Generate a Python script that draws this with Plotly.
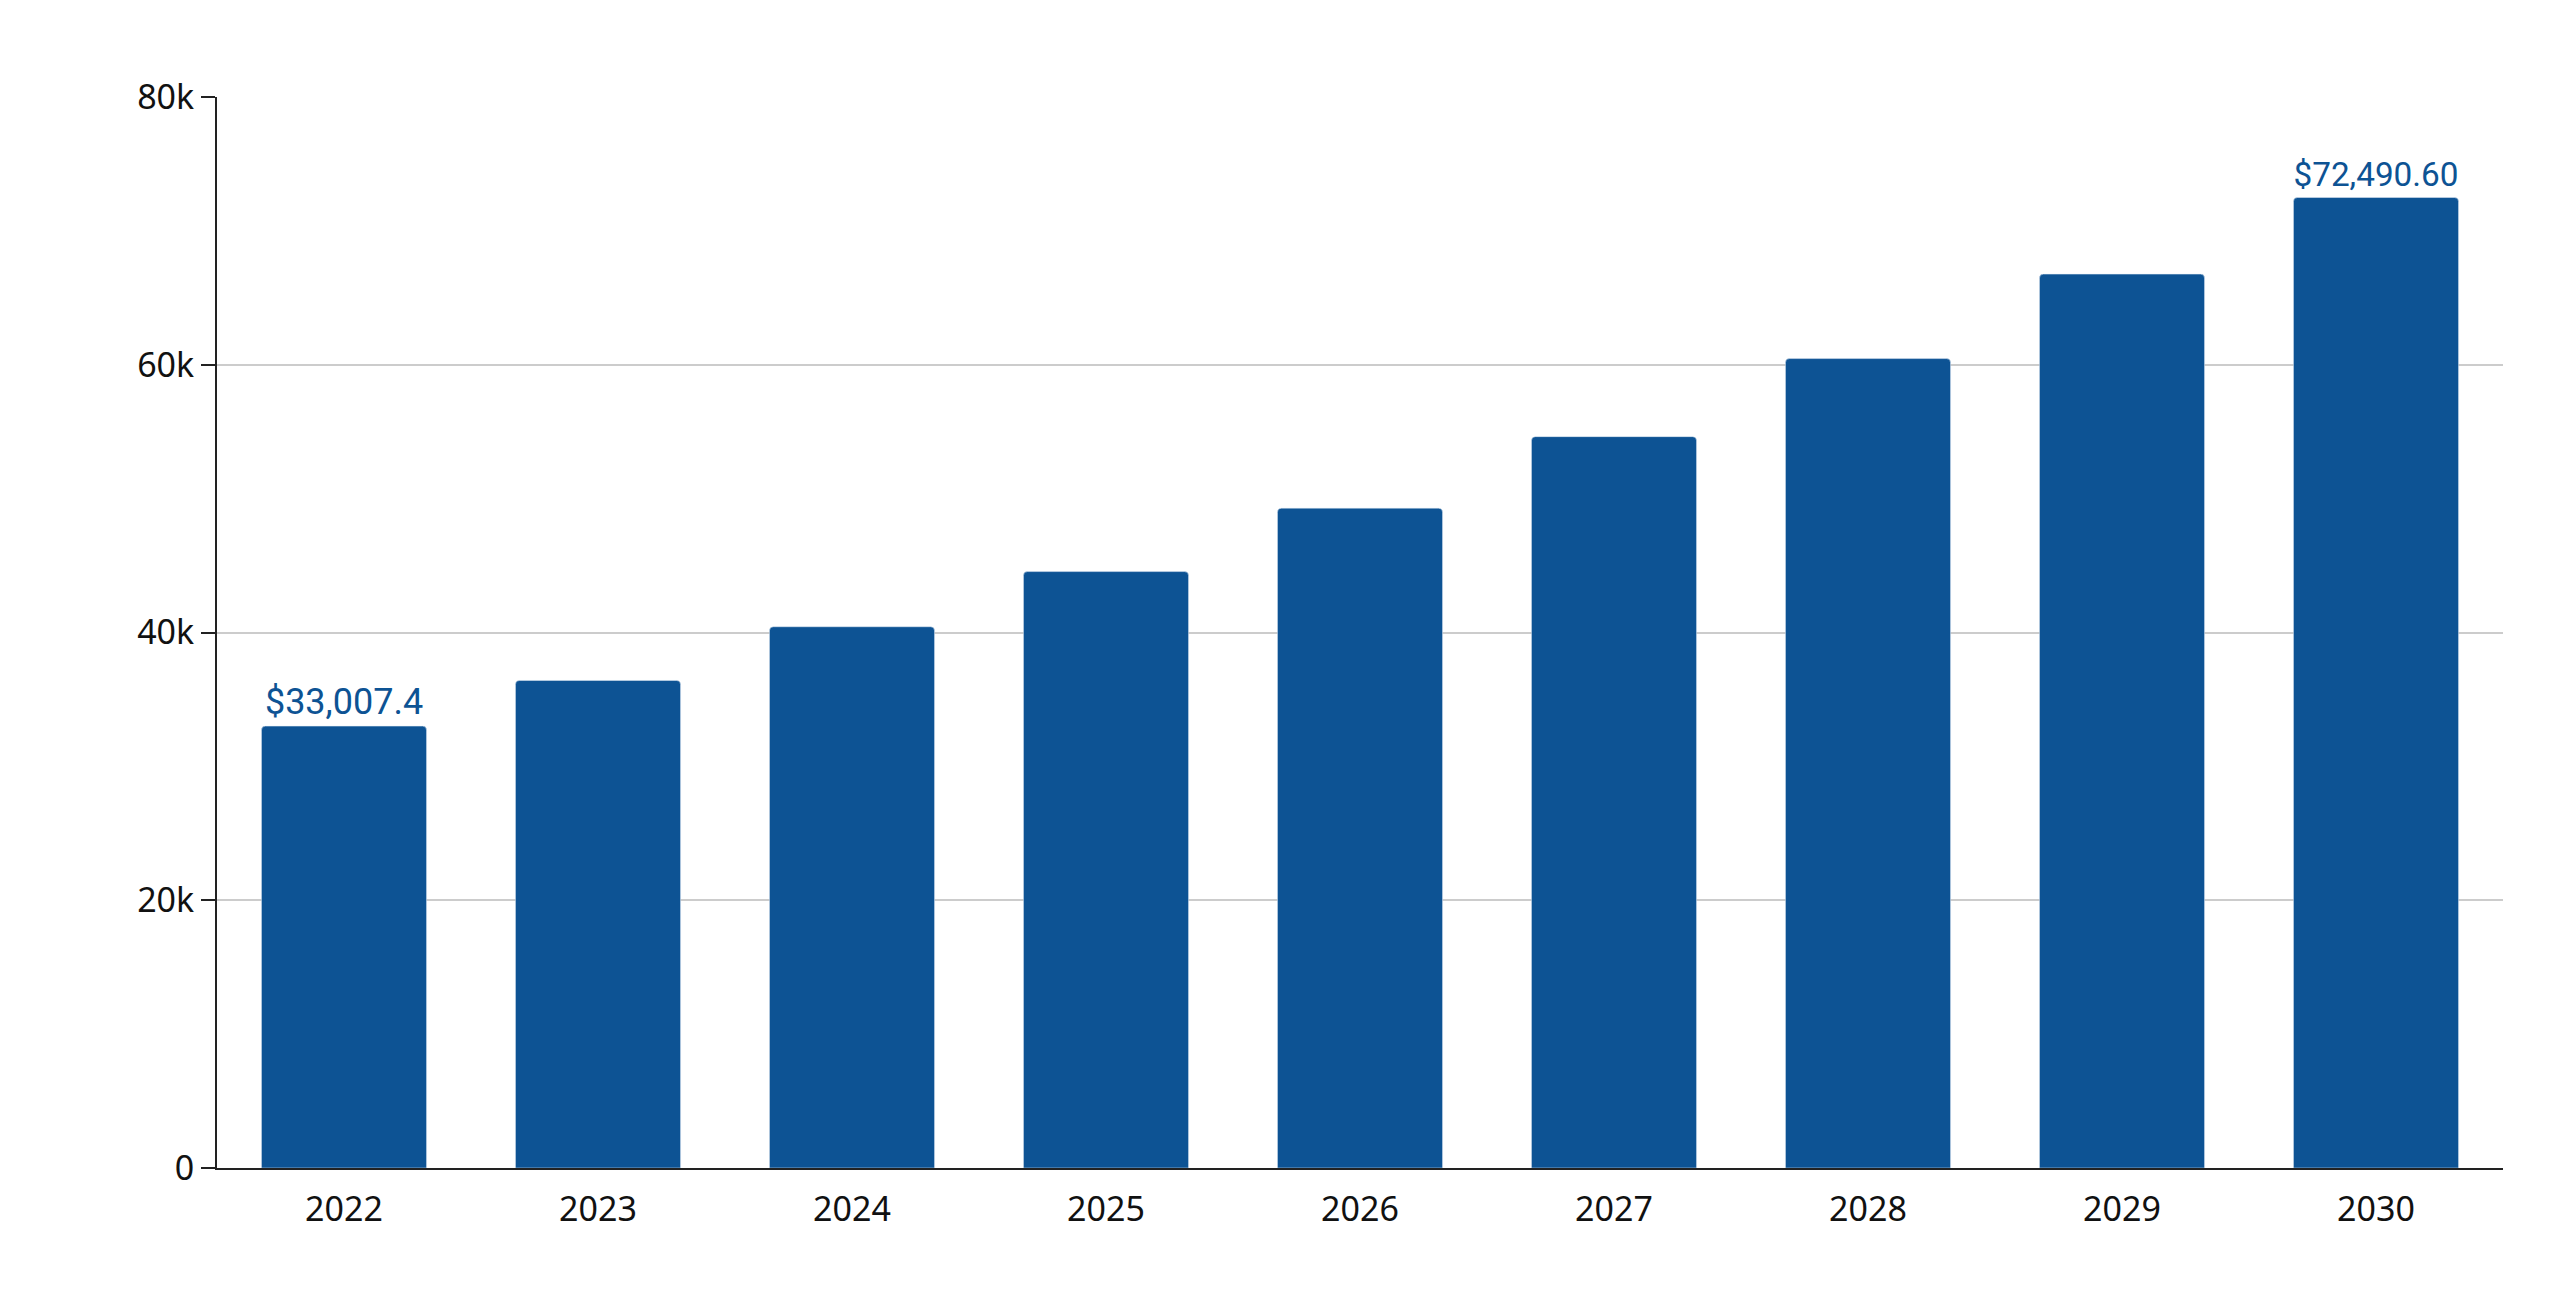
import plotly.graph_objects as go

years = ["2022","2023","2024","2025","2026","2027","2028","2029","2030"]
values = [33007.4, 36420, 40430, 44550, 49290, 54630, 60460, 66770, 72490.6]
labels = ["$33,007.4", "", "", "", "", "", "", "", "$72,490.60"]

color = "#0d5394"
fig = go.Figure(go.Bar(
    x=years, y=values, marker=dict(color=color, cornerradius=4),
    text=labels, textposition="outside", cliponaxis=False,
    textfont=dict(family="Roboto", size=36, color=color),
))
fig.update_layout(
    width=2560, height=1300, plot_bgcolor="white", paper_bgcolor="white",
    margin=dict(l=209, r=65, t=89, b=140), bargap=0.35, showlegend=False,
    font=dict(family="Noto Sans", size=34, color="#111"),
)
fig.update_yaxes(range=[0, 80000], dtick=20000, showgrid=True, gridcolor="#cccccc", gridwidth=2,
                 showline=True, linecolor="#222", linewidth=2, ticks="outside", ticklen=14,
                 tickcolor="#222", tickwidth=2, zeroline=False)
fig.update_xaxes(showline=True, linecolor="#222", linewidth=2, ticks="", ticklabelstandoff=10)
fig.write_html("out.html")
